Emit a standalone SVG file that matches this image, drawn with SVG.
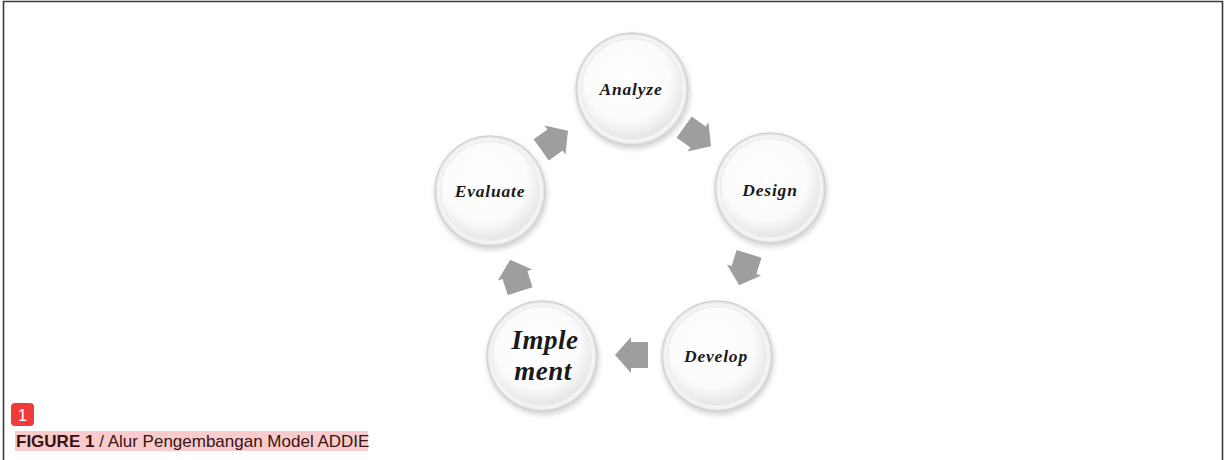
<svg xmlns="http://www.w3.org/2000/svg" width="1225" height="460" viewBox="0 0 1225 460">
<defs>
<radialGradient id="face" cx="0.45" cy="0.4" r="0.6">
<stop offset="0" stop-color="#ffffff"/>
<stop offset="0.7" stop-color="#fbfbfb"/>
<stop offset="1" stop-color="#e6e6e6"/>
</radialGradient>
<radialGradient id="rim" cx="0.5" cy="0.5" r="0.5">
<stop offset="0.85" stop-color="#ffffff"/>
<stop offset="0.95" stop-color="#f2f2f2"/>
<stop offset="1" stop-color="#d6d6d6"/>
</radialGradient>
<filter id="sh" x="-30%" y="-30%" width="160%" height="160%">
<feGaussianBlur stdDeviation="3"/>
</filter>
<symbol id="bubble" viewBox="-62 -62 124 124" overflow="visible">
<circle cx="1" cy="3" r="59" fill="#c4c4c4" filter="url(#sh)" opacity="0.7"/>
<circle r="58" fill="url(#rim)" stroke="#cfcfcf" stroke-width="1"/>
<circle r="52" fill="url(#face)" stroke="#ececec" stroke-width="1.5"/>
</symbol>
<path id="arr" d="M-16,0 L0,-18 L0,-13 L17,-13 L17,13 L0,13 L0,18 Z" fill="#9e9e9e"/>
</defs>
<style>
.lbl{font-family:"Liberation Serif","DejaVu Serif",serif;font-weight:bold;font-style:italic;fill:#1a1a1a;text-anchor:middle}
.sm{font-size:17.5px;letter-spacing:0.8px}
.big{font-size:27px;letter-spacing:0.5px}
.cap{font-family:"Liberation Sans",Arial,sans-serif;font-size:17px;fill:#3a1414}
</style>
<rect width="1225" height="460" fill="#ffffff"/>
<path d="M3.5,460 V1.5 H1222.5 V460" fill="none" stroke="#3a3a3a" stroke-width="1.6"/>

<g id="connectors">
<use href="#arr" transform="translate(698,137) rotate(215.7)"/>
<use href="#arr" transform="translate(744,270) rotate(287.5)"/>
<use href="#arr" transform="translate(631,355)"/>
<use href="#arr" transform="translate(515,275) rotate(72.5)"/>
<use href="#arr" transform="translate(555,140) rotate(144.3)"/>
</g>

<g id="analyze">
<use href="#bubble" x="572" y="29" width="120" height="120"/>
<text class="lbl sm" x="631" y="95">Analyze</text>
</g>
<g id="design">
<use href="#bubble" x="711" y="129" width="118" height="118"/>
<text class="lbl sm" x="770" y="196">Design</text>
</g>
<g id="develop">
<use href="#bubble" x="658" y="297" width="118" height="118"/>
<text class="lbl sm" x="716" y="362">Develop</text>
</g>
<g id="implement">
<use href="#bubble" x="483" y="297" width="118" height="118"/>
<text class="lbl big" x="545" y="349">Imple</text>
<text class="lbl big" x="543" y="380">ment</text>
</g>
<g id="evaluate">
<use href="#bubble" x="431" y="132" width="118" height="118"/>
<text class="lbl sm" x="490" y="197">Evaluate</text>
</g>

<g id="caption">
<rect x="11" y="403" width="23" height="23" rx="4" fill="#f03b3b"/>
<text x="22.5" y="421" font-family="Liberation Sans,Arial,sans-serif" font-size="17" fill="#ffffff" text-anchor="middle">1</text>
<rect x="15" y="431" width="353" height="20" fill="#f8cccc"/>
<text class="cap" x="16" y="447"><tspan font-weight="bold">FIGURE 1</tspan> / Alur Pengembangan Model ADDIE</text>
</g>
</svg>
